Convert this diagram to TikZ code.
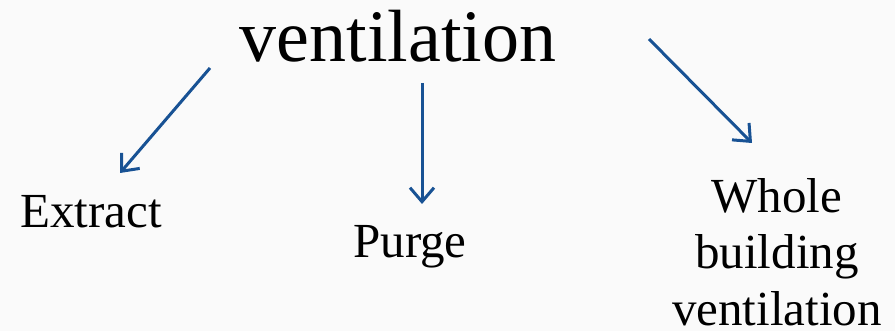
\documentclass[tikz,border=0pt]{standalone}
\usepackage{fontspec}
\setmainfont{Liberation Serif}
\usetikzlibrary{arrows.meta}
\definecolor{arrowblue}{RGB}{24,82,148}
\definecolor{bgwhite}{RGB}{250,250,250}
\tikzset{
  conn/.style={draw=arrowblue, line width=3pt, -{Straight Barb[length=14pt,width=24pt,line width=3pt]}},
  big/.style={inner sep=0pt, font=\fontsize{74}{80}\selectfont},
  label/.style={inner sep=0pt, font=\fontsize{49}{57}\selectfont, align=center},
}
\begin{document}
\begin{tikzpicture}[x=1pt,y=-1pt]
\fill[bgwhite] (0,0) rectangle (895,331);
\useasboundingbox (0,0) rectangle (895,331);
\node[big, anchor=base] (top) at (398,62) {ventilation};
\node[label, anchor=base] (extract) at (91,228) {Extract};
\node[label, anchor=base] (purge) at (410,258) {Purge};
\node[label, anchor=base] (whole) at (777,326) {Whole\\building\\ventilation};
\coordinate (a1s) at (210,68);
\coordinate (a1e) at (120,173);
\coordinate (a2s) at (422,83);
\coordinate (a2e) at (422,204);
\coordinate (a3s) at (649,39);
\coordinate (a3e) at (752,143);
\draw[conn] (a1s) -- (a1e);
\draw[conn] (a2s) -- (a2e);
\draw[conn] (a3s) -- (a3e);
\end{tikzpicture}
\end{document}
